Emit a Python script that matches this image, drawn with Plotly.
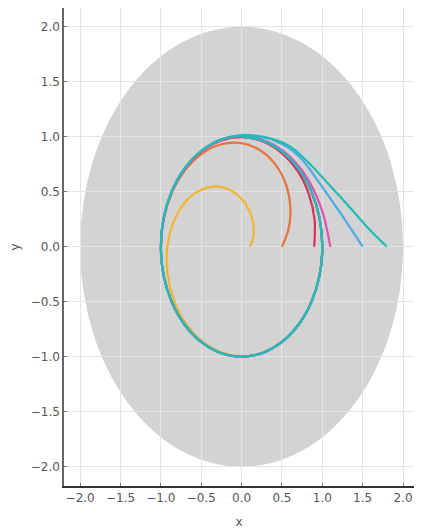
import plotly.graph_objects as go

# ---------------- data ----------------
START_X = [0.1, 0.5, 0.9, 1.1, 1.5, 1.8]
COLORS = ["#f2b431", "#e8733d", "#dc2f5c", "#e250b0", "#4ea9e6", "#1fbdb4"]

DISK_RADIUS = 2.0

# common final part of every trajectory (on the limit cycle, 195 deg -> 450 deg)
CYCLE_X = [-0.966, -0.866, -0.707, -0.5, -0.259, 0.0, 0.259, 0.5, 0.707, 0.866,
           0.966, 1.0, 0.966, 0.866, 0.707, 0.5, 0.259, 0.0]
CYCLE_Y = [-0.259, -0.5, -0.707, -0.866, -0.966, -1.0, -0.966, -0.866, -0.707, -0.5,
           -0.259, 0.0, 0.259, 0.5, 0.707, 0.866, 0.966, 1.0]

X01 = [0.100, 0.125, 0.145, 0.152, 0.138, 0.090, 0.000, -0.138, -0.316, -0.514,
       -0.701, -0.843, -0.919, -0.917, -0.839, -0.694, -0.494, -0.257, 0.000, 0.258,
       0.499, 0.707, 0.866, 0.966, 1.000, 0.966, 0.866, 0.707, 0.5, 0.259, 0.0]
Y01 = [0.000, 0.034, 0.084, 0.152, 0.238, 0.337, 0.435, 0.514, 0.548, 0.514,
       0.405, 0.226, 0.000, -0.246, -0.485, -0.694, -0.856, -0.959, -0.996, -0.964,
       -0.865, -0.707, -0.5, -0.259, 0.0, 0.259, 0.5, 0.707, 0.866, 0.966, 1.0]

X05 = [0.500, 0.580, 0.605, 0.555, 0.427, 0.234, 0.000, -0.249, -0.489, -0.698,
       -0.859, -0.961, -0.997]
Y05 = [0.000, 0.155, 0.349, 0.555, 0.740, 0.875, 0.941, 0.931, 0.847, 0.698,
       0.496, 0.258, 0.000]

X09 = [0.900, 0.905, 0.832, 0.691, 0.493, 0.257, 0.000, -0.258, -0.499, -0.706,
       -0.866, -0.966, -1.0]
Y09 = [0.000, 0.243, 0.481, 0.691, 0.854, 0.958, 0.995, 0.963, 0.864, 0.706,
       0.500, 0.259, 0.0]

X11 = [1.100, 1.020, 0.894, 0.720, 0.506, 0.261, 0.000, -0.259, -0.501, -0.708,
       -0.866, -0.966, -1.0]
Y11 = [0.000, 0.273, 0.516, 0.720, 0.875, 0.972, 1.004, 0.968, 0.867, 0.708,
       0.500, 0.259, 0.0]

X15 = [1.50, 1.41, 1.32, 1.23, 1.135, 1.04, 0.945, 0.85, 0.74, 0.58, 0.45, 0.31, 0.16, 0.00,
       -0.26, -0.503, -0.709, -0.867, -0.967, -1.0]
Y15 = [0.00, 0.10, 0.20, 0.30, 0.40, 0.50, 0.60, 0.70, 0.80, 0.90, 0.95, 0.99, 1.005, 1.01,
       0.973, 0.870, 0.709, 0.501, 0.259, 0.0]

X18 = [1.80, 1.66, 1.53, 1.41, 1.29, 1.165, 1.04, 0.915, 0.78, 0.62, 0.50, 0.33, 0.165, 0.00,
       -0.26, -0.505, -0.71, -0.868, -0.968, -1.0]
Y18 = [0.00, 0.10, 0.20, 0.30, 0.40, 0.50, 0.60, 0.70, 0.80, 0.90, 0.95, 0.99, 1.01, 1.015,
       0.975, 0.870, 0.71, 0.501, 0.259, 0.0]

TICKS = [-2.0, -1.5, -1.0, -0.5, 0.0, 0.5, 1.0, 1.5, 2.0]

curves = [
    (X01, Y01),
    (X05 + CYCLE_X, Y05 + CYCLE_Y),
    (X09 + CYCLE_X, Y09 + CYCLE_Y),
    (X11 + CYCLE_X, Y11 + CYCLE_Y),
    (X15 + CYCLE_X, Y15 + CYCLE_Y),
    (X18 + CYCLE_X, Y18 + CYCLE_Y),
]

fig = go.Figure()
for (cx, cy), col, x0 in zip(curves, COLORS, START_X):
    fig.add_trace(go.Scatter(
        x=cx, y=cy, mode="lines", name=f"x0={x0}",
        line=dict(color=col, width=2.2, shape="spline", smoothing=0.8),
        hoverinfo="skip", showlegend=False))

fig.add_shape(type="circle", xref="x", yref="y",
              x0=-DISK_RADIUS, y0=-DISK_RADIUS, x1=DISK_RADIUS, y1=DISK_RADIUS,
              fillcolor="#d3d3d3", line=dict(width=0), layer="below")

font = dict(family="DejaVu Sans", size=12, color="#555555")
# the page adds an 8px body margin and clips at the body's right edge,
# so the figure is kept to the visible 406px width
fig.update_layout(
    width=406, height=521,
    margin=dict(l=56, r=0, t=0, b=43),
    paper_bgcolor="white", plot_bgcolor="white",
    font=font, showlegend=False,
)
fig.update_xaxes(
    range=[-2.2, 2.136], tickvals=TICKS, tickformat=".1f",
    showgrid=True, gridcolor="#e4e4e4", gridwidth=1, zeroline=False,
    showline=True, linecolor="#333333", linewidth=2,
    ticks="inside", ticklen=3, tickcolor="#777777",
    title=dict(text="x", font=font, standoff=13), tickfont=font,
)
fig.update_yaxes(
    range=[-2.175, 2.17], tickvals=TICKS, tickformat=".1f",
    showgrid=True, gridcolor="#e4e4e4", gridwidth=1, zeroline=False,
    showline=True, linecolor="#666666", linewidth=1.5,
    ticks="inside", ticklen=3, tickcolor="#777777",
    title=dict(text="y", font=font, standoff=11), tickfont=font,
)

fig.write_html("out.html")
